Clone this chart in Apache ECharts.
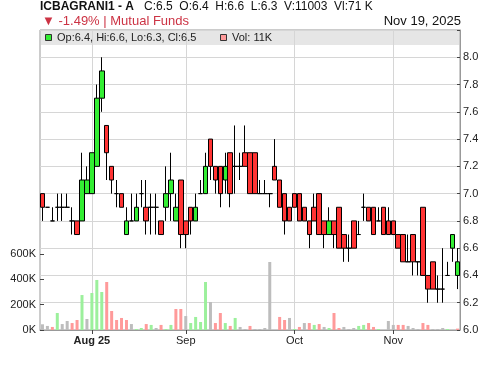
<!DOCTYPE html>
<html>
<head>
<meta charset="utf-8">
<script src="https://cdn.jsdelivr.net/npm/echarts@6/dist/echarts.min.js"></script>
<style>
  html, body { margin: 0; padding: 0; background: #fff; }
  #chart { width: 500px; height: 366px; }
</style>
</head>
<body>
<div id="chart"></div>
<script>
// ---- data ----
const opens = [7.0,6.9,6.8,6.9,6.9,6.9,6.8,6.8,6.8,7.0, 7.0,7.2,7.7,7.5,7.2,7.0,7.0,6.7,6.8,6.8,
  7.0,6.9,6.9,6.9,6.8,6.9,7.0,6.8,7.1,6.8, 6.9,6.8,7.0,7.0,7.4,7.2,7.2,7.1,7.3,7.2,
  7.2,7.3,7.3,7.3,7.0,7.0,7.0,7.2,7.1,7.0, 6.9,7.0,7.0,6.9,6.8,6.9,7.0,6.8,6.7,6.8,
  6.9,6.7,6.6,6.8,6.7,6.9,6.9,6.9,6.8,6.9, 6.8,6.8,6.7,6.7,6.5,6.7,6.5,6.9,6.4,6.5,
  6.3,6.3,6.4,6.6,6.4];
const closes = [6.9,6.9,6.8,6.9,6.9,6.9,6.8,6.7,7.1,7.1, 7.3,7.7,7.9,7.3,7.1,7.0,6.9,6.8,6.8,6.9,
  7.0,6.8,6.9,6.9,6.7,7.0,7.1,6.9,6.7,6.7, 6.8,6.9,7.0,7.2,7.2,7.1,7.0,7.2,7.0,7.2,
  7.2,7.2,7.0,7.0,7.0,7.0,7.0,7.1,6.9,6.8, 6.8,6.9,6.8,6.8,6.7,6.8,6.7,6.7,6.8,6.7,
  6.6,6.6,6.6,6.6,6.7,6.9,6.8,6.7,6.8,6.7, 6.7,6.7,6.6,6.5,6.5,6.5,6.5,6.4,6.3,6.3,
  6.3,6.3,6.4,6.7,6.5];
const lows = [6.8,6.9,6.8,6.8,6.8,6.9,6.7,6.7,6.8,7.0, 7.0,7.2,7.6,7.1,7.0,6.9,6.9,6.7,6.8,6.8,
  6.9,6.7,6.7,6.7,6.7,6.8,6.8,6.8,6.6,6.6, 6.7,6.8,7.0,7.0,7.1,7.0,6.9,7.0,6.9,7.0,
  7.1,7.2,7.0,7.0,7.0,7.0,6.9,7.1,6.9,6.7, 6.8,6.9,6.8,6.8,6.6,6.8,6.7,6.6,6.7,6.6,
  6.6,6.5,6.5,6.6,6.7,6.8,6.8,6.7,6.8,6.7, 6.7,6.7,6.6,6.5,6.5,6.4,6.4,6.4,6.2,6.3,
  6.2,6.2,6.4,6.5,6.3];
const highs = [7.0,6.9,6.9,7.0,7.0,7.0,6.9,6.8,7.3,7.2, 7.3,7.8,8.0,7.5,7.2,7.1,7.0,6.9,7.0,7.0,
  7.1,7.1,7.0,7.0,6.8,7.2,7.3,7.0,7.1,6.8, 6.9,7.0,7.1,7.3,7.4,7.2,7.2,7.3,7.3,7.5,
  7.3,7.5,7.3,7.3,7.1,7.1,7.0,7.4,7.1,7.0, 6.9,7.0,7.0,6.9,6.8,7.0,7.0,6.8,6.9,6.8,
  6.9,6.7,6.7,6.8,6.8,7.0,6.9,6.9,6.9,6.9, 6.9,6.8,6.7,6.7,6.7,6.7,6.5,6.9,6.4,6.5,
  6.4,6.6,6.5,6.7,6.6];
// volume in thousands
const volumes = [45,32,24,134,47,71,55,79,276,87, 292,395,300,379,150,79,95,79,47,8,
  16,47,40,16,40,8,40,166,166,110, 55,103,63,379,221,55,134,55,32,95,
  24,8,32,8,8,16,537,0,103,79, 95,8,24,55,55,40,47,24,16,134,
  16,24,8,16,32,40,55,24,8,0, 71,40,40,40,32,16,8,55,40,8,
  8,16,8,0,11];
const monthTickIndex = [10, 29, 51, 71];
const monthTickLabel = ['Aug 25', 'Sep', 'Oct', 'Nov'];
const volTickLabels = ['0K', '200K', '400K', '600K'];

const titleText = 'ICBAGRANI1 - A';
const quoteText = 'C:6.5  O:6.4  H:6.6  L:6.3  V:11003  Vl:71 K';
const changeText = '▼ -1.49% | Mutual Funds';
const dateText = 'Nov 19, 2025';
const legendOhlc = 'Op:6.4, Hi:6.6, Lo:6.3, Cl:6.5';
const legendVol = 'Vol: 11K';

// ---- build ----
const FONT = '"Liberation Sans", Arial, sans-serif';
const categories = opens.map((_, i) => String(i));
const candleData = opens.map((o, i) => [o, closes[i], lows[i], highs[i]]);
function volColor(i) {
  if (i === 0 || closes[i] === closes[i - 1]) return '#bdbdbd';
  return closes[i] > closes[i - 1] ? '#9cf09c' : '#ff9a9a';
}
const volData = volumes.map((v, i) => ({ value: v, itemStyle: { color: volColor(i) } }));

const chart = echarts.init(document.getElementById('chart'), null, { renderer: 'canvas' });
chart.setOption({
  animation: false,
  textStyle: { fontFamily: FONT },
  grid: [
    { left: 40, right: 40, top: 30, bottom: 36, show: true, borderColor: '#999', borderWidth: 1 },
    { left: 40, right: 40, top: 254, bottom: 36, show: false }
  ],
  xAxis: [
    {
      type: 'category', gridIndex: 0, data: categories, boundaryGap: true,
      axisLine: { show: true, lineStyle: { color: '#999' } },
      axisTick: { show: true, alignWithLabel: true, length: 4, lineStyle: { color: '#444' },
        interval: (i) => monthTickIndex.includes(i) },
      axisLabel: {
        interval: (i) => monthTickIndex.includes(i),
        formatter: (v, i) => {
          const k = monthTickIndex.indexOf(i);
          if (k < 0) return '';
          return k === 0 ? '{b|' + monthTickLabel[k] + '}' : monthTickLabel[k];
        },
        margin: 5, fontSize: 11, color: '#222', fontFamily: FONT,
        rich: { b: { fontWeight: 'bold', fontSize: 11, color: '#222', fontFamily: FONT } }
      },
      splitLine: { show: false }
    },
    { type: 'category', gridIndex: 1, data: categories, boundaryGap: true, show: false }
  ],
  yAxis: [
    {
      type: 'value', gridIndex: 0, position: 'right', min: 6.0, max: 8.2, interval: 0.2,
      axisLine: { show: true, lineStyle: { color: '#999' } },
      axisTick: { show: true, inside: true, length: 3, lineStyle: { color: '#444' } },
      axisLabel: { formatter: (v) => (v > 8.1 ? '' : v.toFixed(1)), margin: 3, fontSize: 11,
        color: '#222', fontFamily: FONT },
      splitLine: { show: true, lineStyle: { color: '#d6d6d6', width: 1 } }
    },
    {
      type: 'value', gridIndex: 1, position: 'left', min: 0, max: 600, interval: 200,
      axisLine: { show: false },
      axisTick: { show: true, inside: true, length: 4, lineStyle: { color: '#444' } },
      axisLabel: { formatter: (v) => volTickLabels[Math.round(v / 200)] || '', margin: 4, fontSize: 11,
        color: '#222', fontFamily: FONT },
      splitLine: { show: false }
    }
  ],
  series: [
    {
      type: 'candlestick', xAxisIndex: 0, yAxisIndex: 0, data: candleData, barWidth: 5,
      itemStyle: { color: '#33ee33', color0: '#ff3333', borderColor: '#000', borderColor0: '#000',
        borderColorDoji: '#000', borderWidth: 1 },
      markLine: {
        silent: true, symbol: 'none', z: 1, animation: false,
        label: { show: false },
        lineStyle: { color: '#d6d6d6', type: 'solid', width: 1 },
        data: monthTickIndex.map((i) => ({ xAxis: i }))
      }
    },
    {
      type: 'bar', xAxisIndex: 1, yAxisIndex: 1, data: volData, barWidth: 3
    }
  ],
  graphic: [
    { type: 'rect', z: 0, silent: true, shape: { x: 40.5, y: 30.5, width: 420, height: 14.5 },
      style: { fill: 'rgba(200,200,200,0.45)' } },
    { type: 'rect', z: 10, shape: { x: 45.5, y: 34.5, width: 6, height: 6 },
      style: { fill: '#33ee33', stroke: '#333', lineWidth: 1 } },
    { type: 'text', z: 10, x: 57, y: 38, style: { text: legendOhlc, font: '11px ' + FONT,
      fill: '#222', verticalAlign: 'middle' } },
    { type: 'rect', z: 10, shape: { x: 220.5, y: 34.5, width: 6, height: 6 },
      style: { fill: '#ff9a9a', stroke: '#333', lineWidth: 1 } },
    { type: 'text', z: 10, x: 232, y: 38, style: { text: legendVol, font: '11px ' + FONT,
      fill: '#222', verticalAlign: 'middle' } },
    { type: 'text', z: 10, x: 40, y: 7, style: { text: titleText, font: 'bold 12px ' + FONT,
      fill: '#111', verticalAlign: 'middle' } },
    { type: 'text', z: 10, x: 144, y: 7, style: { text: quoteText, font: '12px ' + FONT,
      fill: '#111', verticalAlign: 'middle' } },
    { type: 'text', z: 10, x: 42, y: 21.5, style: { text: changeText, font: '13px ' + FONT,
      fill: '#cc3344', verticalAlign: 'middle' } },
    { type: 'text', z: 10, x: 461, y: 21.5, style: { text: dateText, font: '13px ' + FONT,
      fill: '#111', align: 'right', verticalAlign: 'middle' } }
  ]
});
</script>
</body>
</html>
